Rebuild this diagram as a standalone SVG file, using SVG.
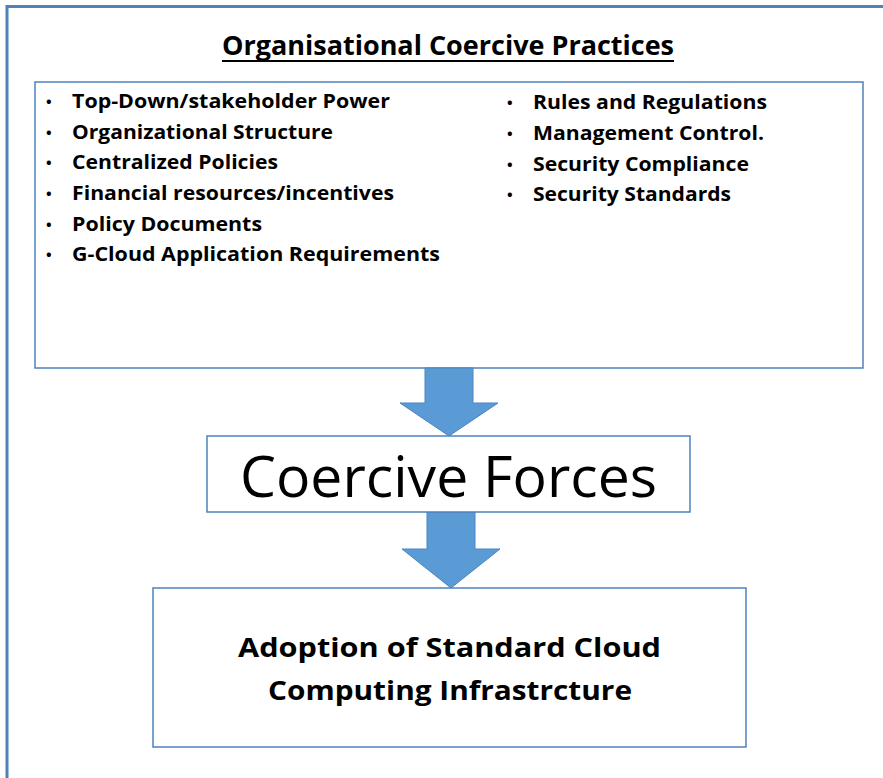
<svg xmlns="http://www.w3.org/2000/svg" width="883" height="778" viewBox="0 0 883 778">
<style>
.frame{fill:none;stroke:#4f81bd;stroke-width:3}
.box{fill:#ffffff;stroke:#4f81bd;stroke-width:1.5}
.arrow{fill:#5b9bd5;stroke:#4a86c0;stroke-width:1}
.t{font-family:"Open Sans","Liberation Sans",sans-serif;fill:#000}
.b{font-weight:bold}
.li{font-size:19px;font-weight:bold}
.bul{font-size:15px;font-weight:bold}
</style>
<rect width="883" height="778" fill="#ffffff"/>
<g id="frame">
<path class="frame" d="M7 778 V6.5 H883"/>
</g>
<g id="title">
<text class="t b" x="222" y="55" font-size="26" textLength="452" lengthAdjust="spacingAndGlyphs">Organisational Coercive Practices</text>
<line x1="222" y1="61" x2="674" y2="61" stroke="#000" stroke-width="2"/>
</g>
<g id="practices">
<rect class="box" x="35" y="82" width="828" height="286"/>
<text class="t bul" x="46" y="107">•</text>
<text class="t bul" x="46" y="138">•</text>
<text class="t bul" x="46" y="168">•</text>
<text class="t bul" x="46" y="199">•</text>
<text class="t bul" x="46" y="230">•</text>
<text class="t bul" x="46" y="260">•</text>
<text class="t li" x="72" y="108" textLength="318" lengthAdjust="spacingAndGlyphs">Top-Down/stakeholder Power</text>
<text class="t li" x="72" y="139" textLength="261" lengthAdjust="spacingAndGlyphs">Organizational Structure</text>
<text class="t li" x="72" y="169" textLength="206" lengthAdjust="spacingAndGlyphs">Centralized Policies</text>
<text class="t li" x="72" y="200" textLength="322" lengthAdjust="spacingAndGlyphs">Financial resources/incentives</text>
<text class="t li" x="72" y="231" textLength="190" lengthAdjust="spacingAndGlyphs">Policy Documents</text>
<text class="t li" x="72" y="261" textLength="368" lengthAdjust="spacingAndGlyphs">G-Cloud Application Requirements</text>
<text class="t bul" x="507" y="108">•</text>
<text class="t bul" x="507" y="139">•</text>
<text class="t bul" x="507" y="170">•</text>
<text class="t bul" x="507" y="200">•</text>
<text class="t li" x="533" y="109" textLength="234" lengthAdjust="spacingAndGlyphs">Rules and Regulations</text>
<text class="t li" x="533" y="140" textLength="231" lengthAdjust="spacingAndGlyphs">Management Control.</text>
<text class="t li" x="533" y="171" textLength="216" lengthAdjust="spacingAndGlyphs">Security Compliance</text>
<text class="t li" x="533" y="201" textLength="198" lengthAdjust="spacingAndGlyphs">Security Standards</text>
</g>
<g id="connectors">
<path class="arrow" d="M425 368 H473 V403 H498 L449 436 L400 403 H425 Z"/>
<path class="arrow" d="M427 512 H475 V549 H500 L451 588 L402 549 H427 Z"/>
</g>
<g id="forces">
<rect class="box" x="207" y="436" width="483" height="76"/>
<text class="t" x="240" y="497" font-size="56" textLength="417" lengthAdjust="spacingAndGlyphs">Coercive Forces</text>
</g>
<g id="adoption">
<rect class="box" x="153" y="588" width="593" height="159"/>
<text class="t b" x="238" y="657" font-size="27" textLength="423" lengthAdjust="spacingAndGlyphs">Adoption of Standard Cloud</text>
<text class="t b" x="268" y="700" font-size="27" textLength="364" lengthAdjust="spacingAndGlyphs">Computing Infrastrcture</text>
</g>
</svg>
